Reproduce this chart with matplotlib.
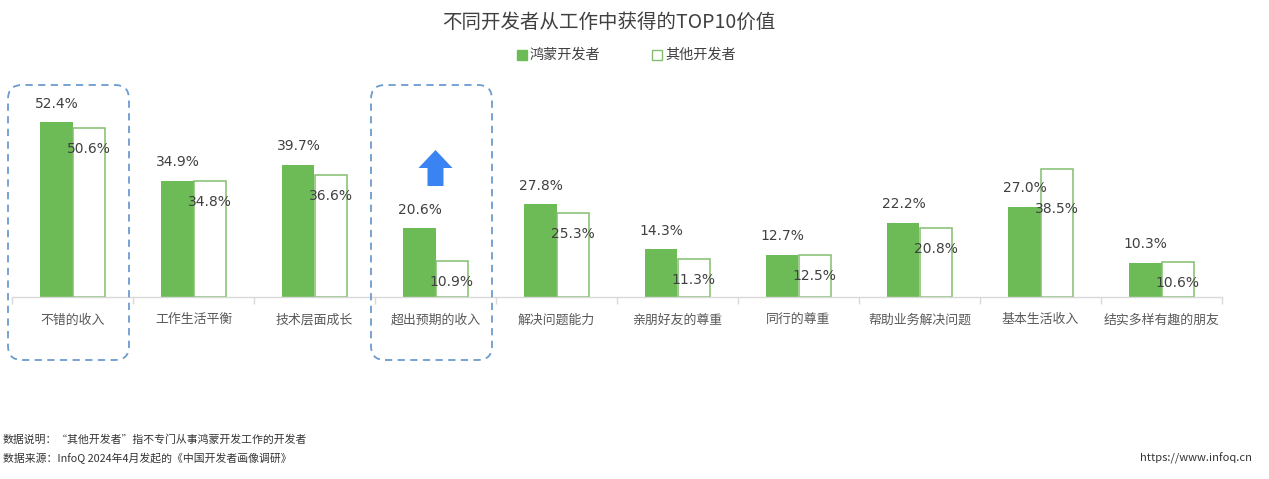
import matplotlib
matplotlib.use("Agg")
import matplotlib.pyplot as plt
from matplotlib.patches import FancyBboxPatch, FancyArrow, Rectangle

plt.rcParams["font.family"] = ["Noto Sans CJK SC", "DejaVu Sans"]

categories = ["不错的收入", "工作生活平衡", "技术层面成长", "超出预期的收入", "解决问题能力",
              "亲朋好友的尊重", "同行的尊重", "帮助业务解决问题", "基本生活收入", "结实多样有趣的朋友"]
harmony = [52.4, 34.9, 39.7, 20.6, 27.8, 14.3, 12.7, 22.2, 27.0, 10.3]
others = [50.6, 34.8, 36.6, 10.9, 25.3, 11.3, 12.5, 20.8, 38.5, 10.6]
series_names = ["鸿蒙开发者", "其他开发者"]
highlight = ["不错的收入", "超出预期的收入"]

title = "不同开发者从工作中获得的TOP10价值"
notes = ["数据说明：“其他开发者”指不专门从事鸿蒙开发工作的开发者",
         "数据来源：InfoQ 2024年4月发起的《中国开发者画像调研》"]
url = "https://www.infoq.cn"

GREEN = "#6cbb56"
EDGE = "#82bd6e"
TEXT = "#404040"
LABEL = "#595959"

W, H = 1269, 479
fig = plt.figure(figsize=(W / 100, H / 100), dpi=100)
fig.patch.set_facecolor("white")

# main bar axes, placed in pixels: baseline at y=297, categories 12..1222
ax = fig.add_axes([12 / W, (H - 297) / H, 1210 / W, 200 / H])
ax.set_xlim(-0.5, len(categories) - 0.5)
ax.set_ylim(0, 60)
ax.patch.set_alpha(0)

bw = 0.265
xs = list(range(len(categories)))
ax.bar([x - bw / 2 for x in xs], harmony, width=bw, color=GREEN, zorder=2)
ax.bar([x + bw / 2 for x in xs], others, width=bw, facecolor="white",
       edgecolor=EDGE, linewidth=1.1, zorder=2)

num_font = ["DejaVu Sans"]
for x, g, o in zip(xs, harmony, others):
    ax.text(x - bw / 2, g + 5.6, f"{g:.1f}%", ha="center", va="center",
            fontsize=10, family=num_font, color=TEXT, zorder=3)
    oy = min(o - 6.3, g - 0.5)
    ax.text(x + bw / 2, oy, f"{o:.1f}%", ha="center", va="center",
            fontsize=10, family=num_font, color=TEXT, zorder=3)

for s in ["top", "left", "right"]:
    ax.spines[s].set_visible(False)
ax.spines["bottom"].set_color("#d9d9d9")
ax.spines["bottom"].set_linewidth(1.0)
ax.set_yticks([])
ax.set_xticks([x - 0.5 for x in range(len(categories) + 1)])
ax.set_xticklabels([])
ax.tick_params(axis="x", length=5, color="#d9d9d9", width=1.0)

# overlay in pixel coordinates (origin bottom-left)
ov = fig.add_axes([0, 0, 1, 1])
ov.set_xlim(0, W)
ov.set_ylim(0, H)
ov.axis("off")
ov.patch.set_alpha(0)


def px(x, y):
    return ax.transData.transform((x, y))


for i, name in enumerate(categories):
    cx, _ = px(i, 0)
    ov.text(cx, H - 320, name, ha="center", va="center", fontsize=9.3, color=LABEL)

# dashed rounded boxes around the highlighted categories
for name in highlight:
    i = categories.index(name)
    x0, _ = px(i - 0.5, 0)
    x1, _ = px(i + 0.5, 0)
    box = FancyBboxPatch((x0 - 4 + 14, H - 360 + 14), (x1 - x0) - 28, 275 - 28,
                         boxstyle="round,pad=14", fill=False, edgecolor="#6b9bcf",
                         linestyle=(0, (4, 3)), linewidth=1.3, zorder=5)
    ov.add_patch(box)

# blue up arrow above the unexpected-income bars
ai = categories.index("超出预期的收入")
acx, _ = px(ai, 0)
ov.add_patch(FancyArrow(acx, H - 186, 0, 36, width=16, head_width=34,
                        head_length=18, length_includes_head=True,
                        color="#3a83f3", linewidth=0))

ov.text(W / 2 - 26, H - 22, title, ha="center", va="center", fontsize=14, color=TEXT)

# legend
ov.add_patch(Rectangle((517, H - 60), 10, 10, facecolor=GREEN, edgecolor=GREEN))
ov.text(530, H - 55, series_names[0], ha="left", va="center", fontsize=10.2, color=TEXT)
ov.add_patch(Rectangle((652, H - 60), 10, 10, facecolor="white", edgecolor=EDGE, linewidth=1))
ov.text(665, H - 55, series_names[1], ha="left", va="center", fontsize=10.2, color=TEXT)

ov.text(3, H - 440, notes[0], ha="left", va="center", fontsize=7.8, color="#333333")
ov.text(3, H - 458, notes[1], ha="left", va="center", fontsize=7.8, color="#333333")
ov.text(1252, H - 458, url, ha="right", va="center", fontsize=8, color="#333333")

fig.savefig("out.png", dpi=100, facecolor="white")
